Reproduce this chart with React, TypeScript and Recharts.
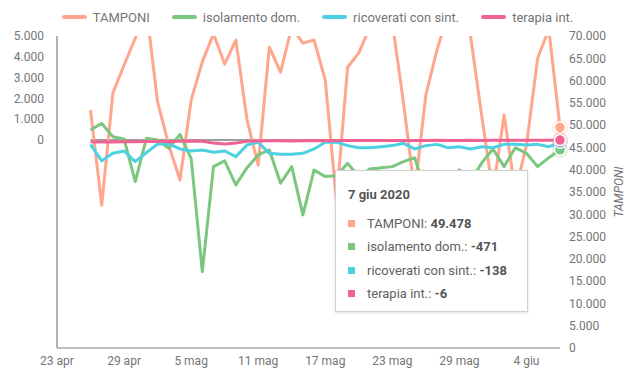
import React from "react";
import { LineChart, Line, XAxis, YAxis, Tooltip, Legend, ReferenceLine } from "recharts";

const startDate = "2020-04-23";

const dates = [
  "2020-04-26", "2020-04-27", "2020-04-28", "2020-04-29", "2020-04-30",
  "2020-05-01", "2020-05-02", "2020-05-03", "2020-05-04", "2020-05-05",
  "2020-05-06", "2020-05-07", "2020-05-08", "2020-05-09", "2020-05-10",
  "2020-05-11", "2020-05-12", "2020-05-13", "2020-05-14", "2020-05-15",
  "2020-05-16", "2020-05-17", "2020-05-18", "2020-05-19", "2020-05-20",
  "2020-05-21", "2020-05-22", "2020-05-23", "2020-05-24", "2020-05-25",
  "2020-05-26", "2020-05-27", "2020-05-28", "2020-05-29", "2020-05-30",
  "2020-05-31", "2020-06-01", "2020-06-02", "2020-06-03", "2020-06-04",
  "2020-06-05", "2020-06-06", "2020-06-07",
];

const tamponi = [
  53400, 32000, 57200, 63500, 69500, 76000, 55200, 45500, 37700, 55600,
  64200, 70500, 63700, 69100, 51200, 41000, 67500, 61900, 72000, 68400,
  69100, 60100, 33000, 63000, 66200, 72000, 80000, 73000, 55000, 35000,
  56800, 66900, 75000, 74000, 70000, 52000, 35000, 52300, 35000, 45500,
  65000, 71500, 49478,
];

const isolamento = [
  480, 800, 160, 50, -2000, 80, 0, -400, 270, -880,
  -6330, -1280, -1000, -2160, -1330, -720, -480, -2080, -1280, -3600,
  -1440, -1760, -1720, -1120, -1760, -1390, -1330, -1280, -1040, -850,
  -2500, -3000, -2200, -1440, -2000, -1100, -430, -1280, -370, -640,
  -1280, -850, -471,
];

const ricoverati = [
  -210, -1000, -640, -530, -1040, -610, -190, -190, -430, -530,
  -480, -590, -530, -800, -240, -110, -640, -690, -690, -640,
  -430, -110, -110, -270, -370, -370, -320, -270, -160, -430,
  -270, -210, -370, -320, -430, -320, -370, -210, -210, -240,
  -210, -320, -138,
];

const terapia = [
  -90, -100, -100, -90, -80, -70, -60, -80, -60, -50,
  -60, -150, -190, -150, -60, -50, -40, -40, -50, -40,
  -30, -40, -30, -20, -30, -20, -20, -20, -30, -20,
  -20, -10, -20, -20, -10, -20, -10, -10, -10, -10,
  -10, -10, -6,
];

const tickDates = [
  "2020-04-23", "2020-04-29", "2020-05-05", "2020-05-11",
  "2020-05-17", "2020-05-23", "2020-05-29", "2020-06-04",
];
const endDate = "2020-06-07";
const monthNames = ["gen", "feb", "mar", "apr", "mag", "giu", "lug", "ago", "set", "ott", "nov", "dic"];
const leftTicks = [0, 1000, 2000, 3000, 4000, 5000];
const rightTicks = [0, 5000, 10000, 15000, 20000, 25000, 30000, 35000, 40000, 45000, 50000, 55000, 60000, 65000, 70000];

const series = [
  { key: "tamponi", name: "TAMPONI", color: "#FFA68C", axis: "right" },
  { key: "isolamento", name: "isolamento dom.", color: "#7CC77F", axis: "left" },
  { key: "ricoverati", name: "ricoverati con sint.", color: "#4DD0E1", axis: "left" },
  { key: "terapia", name: "terapia int.", color: "#F06292", axis: "left" },
];

const dayOf = (iso: string) => (Date.parse(iso) - Date.parse(startDate)) / 86400000;
const labelOf = (iso: string, withYear = false) => {
  const d = new Date(iso + "T00:00:00Z");
  return `${d.getUTCDate()} ${monthNames[d.getUTCMonth()]}${withYear ? " " + d.getUTCFullYear() : ""}`;
};
const fmt = (v: number) => {
  const s = Math.abs(v).toString().replace(/\B(?=(\d{3})+(?!\d))/g, ".");
  return v < 0 ? "-" + s : s;
};

const data = dates.map((d, i) => ({
  day: dayOf(d),
  date: d,
  tamponi: tamponi[i],
  isolamento: isolamento[i],
  ricoverati: ricoverati[i],
  terapia: terapia[i],
}));

const tickLabelByDay: Record<number, string> = {};
tickDates.forEach((d) => (tickLabelByDay[dayOf(d)] = labelOf(d)));

const textColor = "#757575";

const renderLegend = () => (
  <div
    style={{
      height: 34,
      display: "flex",
      justifyContent: "center",
      alignItems: "center",
      fontSize: 13,
      color: textColor,
      paddingBottom: 4,
      boxSizing: "border-box",
    }}
  >
    {series.map((s) => (
      <div key={s.key} style={{ display: "flex", alignItems: "center", margin: "0 11px" }}>
        <span style={{ width: 25, height: 4, borderRadius: 2, background: s.color, marginRight: 6, display: "inline-block" }} />
        <span>{s.name}</span>
      </div>
    ))}
  </div>
);

const CustomTooltip = ({ active, payload }: any) => {
  if (!active || !payload || !payload.length) return null;
  const row = payload[0].payload;
  return (
    <div
      style={{
        width: 193,
        boxSizing: "border-box",
        background: "#fff",
        border: "1px solid #d0d0d0",
        boxShadow: "0 1px 3px rgba(0,0,0,0.12)",
        padding: "14px 12px 6px 12px",
        fontSize: 13,
        color: "#616161",
      }}
    >
      <div style={{ fontWeight: 700, lineHeight: "20px", marginBottom: 7, color: "#555" }}>{labelOf(row.date, true)}</div>
      {series.map((s) => (
        <div key={s.key} style={{ display: "flex", alignItems: "center", lineHeight: "23.3px" }}>
          <span style={{ width: 7, height: 7, background: s.color, marginRight: 12, display: "inline-block" }} />
          <span>
            {s.name}: <b style={{ color: "#555" }}>{fmt(row[s.key])}</b>
          </span>
        </div>
      ))}
    </div>
  );
};

const makeDot = (color: string) => (props: any) => {
  const { cx, cy } = props;
  if (cx == null || cy == null) return <g />;
  return (
    <g>
      <circle cx={cx} cy={cy} r={8} fill={color} fillOpacity={0.25} />
      <circle cx={cx} cy={cy} r={5.5} fill={color} stroke="#fff" strokeWidth={1.5} />
    </g>
  );
};

const RightLabel = (props: any) => {
  const { viewBox } = props;
  const x = viewBox.x + 60;
  const y = viewBox.y + viewBox.height / 2;
  return (
    <text x={x} y={y} transform={`rotate(-90 ${x} ${y})`} textAnchor="middle" dominantBaseline="middle" fill={textColor} fontSize={12} fontStyle="italic">
      TAMPONI
    </text>
  );
};

export default function App() {
  return (
    <div style={{ position: "absolute", left: 0, top: 0, fontFamily: "Roboto, sans-serif" }}>
      <LineChart width={635} height={380} data={data} margin={{ top: 2, right: 0, bottom: 0, left: 0 }} style={{ fontFamily: "Roboto, sans-serif" }}>
        <XAxis
          dataKey="day"
          type="number"
          domain={[0, dayOf(endDate)]}
          ticks={tickDates.map(dayOf)}
          interval={0}
          tickFormatter={(v: number) => tickLabelByDay[v] ?? ""}
          height={32}
          tickLine={false}
          axisLine={{ stroke: "#aaaaaa", strokeWidth: 1.5 }}
          tick={{ fill: textColor, fontSize: 12 }}
        />
        <YAxis
          yAxisId="left"
          width={57}
          domain={[-10000, 5000]}
          ticks={leftTicks}
          allowDataOverflow
          tickFormatter={fmt}
          tickLine={false}
          tickMargin={7}
          axisLine={{ stroke: "#666666" }}
          tick={{ fill: textColor, fontSize: 12 }}
        />
        <YAxis
          yAxisId="right"
          orientation="right"
          width={75}
          domain={[0, 70000]}
          ticks={rightTicks}
          interval={0}
          allowDataOverflow
          tickFormatter={fmt}
          tickLine={false}
          tickMargin={3}
          axisLine={false}
          tick={{ fill: textColor, fontSize: 12 }}
          label={<RightLabel />}
        />
        <Legend verticalAlign="top" height={34} content={renderLegend} />
        <ReferenceLine
          yAxisId="left"
          segment={[
            { x: dayOf(dates[0]), y: 0 },
            { x: dayOf(endDate), y: 0 },
          ]}
          stroke="#9e9e9e"
          strokeWidth={2}
        />
        {series.map((s) => (
          <Line
            key={s.key}
            yAxisId={s.axis}
            type="linear"
            dataKey={s.key}
            name={s.name}
            stroke={s.color}
            strokeWidth={3}
            strokeLinejoin="round"
            dot={false}
            activeDot={makeDot(s.color)}
            isAnimationActive={false}
          />
        ))}
        <Tooltip
          content={<CustomTooltip />}
          defaultIndex={data.length - 1}
          active
          cursor={false}
          position={{ x: 335, y: 170 }}
          isAnimationActive={false}
          wrapperStyle={{ transition: "none" }}
        />
      </LineChart>
    </div>
  );
}
